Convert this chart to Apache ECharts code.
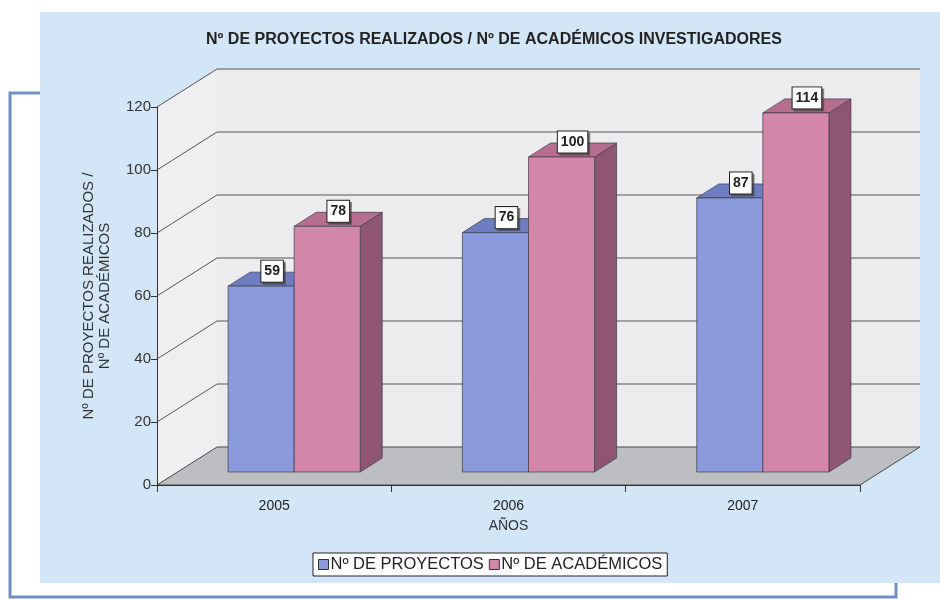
<!DOCTYPE html>
<html><head><meta charset="utf-8">
<script src="https://cdn.jsdelivr.net/npm/echarts@6/dist/echarts.min.js"></script>
<style>html,body{margin:0;padding:0;background:#fff}#chart{width:940px;height:599px}</style>
</head><body><div id="chart"></div>
<script>
// ---- data ----
const categories = ['2005', '2006', '2007'];
const proyectos = [59, 76, 87];
const academicos = [78, 100, 114];
const yTicks = [0, 20, 40, 60, 80, 100, 120];
const seriesNames = ['Nº DE PROYECTOS', 'Nº DE ACADÉMICOS'];
const chartTitle = 'Nº DE PROYECTOS REALIZADOS / Nº DE ACADÉMICOS INVESTIGADORES';
const yAxisTitle = 'Nº DE PROYECTOS REALIZADOS /\nNº DE ACADÉMICOS';
const xAxisTitle = 'AÑOS';

// ---- 3D look (pixels) ----
const DEPTH = [60, -38];
const FRONT = [20, -13];
const BARD = [22, -14];
const BARFRAC = 0.282;
const COLORS = [
  { front: '#8A9ADA', top: '#6E7DC0', side: '#5A68A6' },
  { front: '#D486A8', top: '#B56E8E', side: '#8E5672' }
];
const FONT = '"Liberation Sans", Arial, sans-serif';

function makeBarRenderer(k) {
  return function (params, api) {
    const i = api.value(0), v = api.value(1);
    const top = api.coord([i, v]);
    const base = api.coord([i, 0]);
    const band = api.size([1, 0])[0];
    const w = band * BARFRAC;
    const x0 = top[0] + FRONT[0] - (k === 0 ? w : 0);
    const yT = top[1] + FRONT[1], yB = base[1] + FRONT[1];
    const c = COLORS[k];
    const stroke = '#3c3c4c';
    return {
      type: 'group',
      children: [
        { type: 'polygon', shape: { points: [[x0 + w, yT], [x0 + w + BARD[0], yT + BARD[1]], [x0 + w + BARD[0], yB + BARD[1]], [x0 + w, yB]] },
          style: { fill: c.side, stroke: stroke, lineWidth: 0.7 } },
        { type: 'polygon', shape: { points: [[x0, yT], [x0 + w, yT], [x0 + w + BARD[0], yT + BARD[1]], [x0 + BARD[0], yT + BARD[1]]] },
          style: { fill: c.top, stroke: stroke, lineWidth: 0.7 } },
        { type: 'rect', shape: { x: x0, y: yT, width: w, height: yB - yT },
          style: { fill: c.front, stroke: stroke, lineWidth: 0.7 } },
        { type: 'text', x: x0 + w / 2 + BARD[0] / 2, y: yT + BARD[1] / 2 - 8, z2: 10,
          style: { text: String(v), align: 'center', verticalAlign: 'middle',
            font: 'bold 14px ' + FONT, fill: '#222', backgroundColor: '#fff',
            borderColor: '#222', borderWidth: 1, padding: [4, 3, 3, 3],
            shadowColor: 'rgba(60,60,60,0.55)', shadowBlur: 0, shadowOffsetX: 2, shadowOffsetY: 2 } }
      ]
    };
  };
}

function renderWalls(params, api) {
  const o = api.coord([0, 0]);
  const band = api.size([1, 0])[0];
  const xL = o[0] - band / 2;
  const xR = o[0] + band * (categories.length - 0.5);
  const yAt = t => api.coord([0, t])[1];
  const y0 = yAt(0), yTop = yAt(yTicks[yTicks.length - 1]);
  const dx = DEPTH[0], dy = DEPTH[1];
  const children = [
    { type: 'polygon', shape: { points: [[xL, y0], [xL + dx, y0 + dy], [xL + dx, yTop + dy], [xL, yTop]] },
      style: { fill: '#EFEFF2', stroke: null } },
    { type: 'rect', shape: { x: xL + dx, y: yTop + dy, width: xR - xL, height: y0 - yTop },
      style: { fill: '#ECECEF', stroke: null } },
    { type: 'polygon', shape: { points: [[xL, y0], [xR, y0], [xR + dx, y0 + dy], [xL + dx, y0 + dy]] },
      style: { fill: '#BDBEC2', stroke: '#4a4a4a', lineWidth: 1 } }
  ];
  yTicks.forEach(t => {
    if (t === 0) return;
    const y = yAt(t);
    children.push({ type: 'polyline', shape: { points: [[xL, y], [xL + dx, y + dy], [xR + dx, y + dy]] },
      style: { stroke: '#555', lineWidth: 1, fill: null } });
  });
  return { type: 'group', children: children };
}

const chart = echarts.init(document.getElementById('chart'), null, { renderer: 'canvas' });
chart.setOption({
  backgroundColor: '#ffffff',
  animation: false,
  title: {
    text: chartTitle, left: 201, top: 27,
    textStyle: { fontFamily: FONT, fontSize: 16, fontWeight: 'bold', color: '#222' }
  },
  graphic: [
    { type: 'rect', z: -10, shape: { x: 40, y: 12, width: 900, height: 571 }, style: { fill: '#D3E6F7' } },
    { type: 'polyline', z: -10, shape: { points: [[40, 93], [10, 93], [10, 597], [896, 597], [896, 583]] },
      style: { stroke: '#6F8FC6', lineWidth: 3, fill: null } }
  ],
  legend: {
    data: [
      { name: seriesNames[0], itemStyle: { borderColor: '#333', borderWidth: 1 } },
      { name: seriesNames[1], itemStyle: { borderColor: '#333', borderWidth: 1 } }
    ],
    left: 313, top: 553, orient: 'horizontal',
    backgroundColor: '#fff', borderColor: '#222', borderWidth: 1,
    padding: [3, 5, 3, 5], itemWidth: 10, itemHeight: 10, itemGap: 5, icon: 'rect',
    textStyle: { fontFamily: FONT, fontSize: 16.5, color: '#222', padding: [0, 0, 0, -3] }
  },
  grid: { left: 157, right: 80, top: 107, bottom: 114 },
  xAxis: {
    type: 'category', data: categories, z: 5,
    axisLine: { show: true, lineStyle: { color: '#333', width: 1 } },
    axisTick: { show: true, length: 7, lineStyle: { color: '#333' } },
    axisLabel: { margin: 14, fontFamily: FONT, fontSize: 14, color: '#222' },
    name: xAxisTitle, nameLocation: 'middle', nameGap: 34,
    nameTextStyle: { fontFamily: FONT, fontSize: 14, color: '#333' }
  },
  yAxis: {
    type: 'value', min: 0, max: 120, interval: 20, z: 5,
    axisLine: { show: true, lineStyle: { color: '#333', width: 1 } },
    axisTick: { show: true, length: 6, lineStyle: { color: '#333' } },
    axisLabel: { margin: 6, fontFamily: FONT, fontSize: 15, color: '#333' },
    splitLine: { show: false },
    name: yAxisTitle, nameLocation: 'middle', nameGap: 44,
    nameTextStyle: { fontFamily: FONT, fontSize: 15, color: '#333', lineHeight: 16, align: 'center' }
  },
  series: [
    { type: 'custom', name: 'walls', z: 1, silent: true, renderItem: renderWalls,
      data: [[0, 0]], encode: { x: 0, y: 1 } },
    { type: 'custom', name: seriesNames[0], z: 2, renderItem: makeBarRenderer(0),
      itemStyle: { color: COLORS[0].front },
      data: proyectos.map((v, i) => [i, v]), encode: { x: 0, y: 1 } },
    { type: 'custom', name: seriesNames[1], z: 3, renderItem: makeBarRenderer(1),
      itemStyle: { color: COLORS[1].front },
      data: academicos.map((v, i) => [i, v]), encode: { x: 0, y: 1 } }
  ]
});
</script>
</body></html>
